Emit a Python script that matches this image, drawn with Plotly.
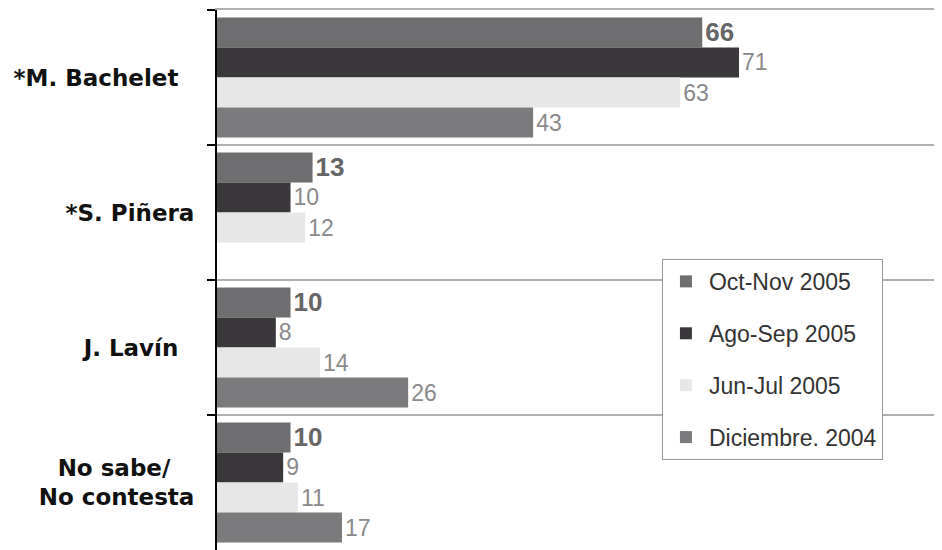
import plotly.graph_objects as go

# candidatos (categorias) y periodos (series)
candidates = ["*M. Bachelet&nbsp;&nbsp;", "*S. Piñera",
              "J. Lavín&nbsp;&nbsp;", "No sabe/&nbsp;&nbsp;&nbsp;<br>No contesta"]
periods = ["Oct-Nov 2005", "Ago-Sep 2005", "Jun-Jul 2005", "Diciembre. 2004"]

oct_nov_2005 = [66, 13, 10, 10]
ago_sep_2005 = [71, 10, 8, 9]
jun_jul_2005 = [63, 12, 14, 11]
dic_2004 = [43, None, 26, 17]

series = [oct_nov_2005, ago_sep_2005, jun_jul_2005, dic_2004]
colors = ["#6e6e70", "#3a383b", "#e6e7e6", "#7b7b7d"]
text_fonts = [
    dict(family="Liberation Sans, Arial", size=26, color="#666666", weight="bold"),
    dict(family="Liberation Sans, Arial", size=23, color="#8a8a8a"),
    dict(family="Liberation Sans, Arial", size=23, color="#8a8a8a"),
    dict(family="Liberation Sans, Arial", size=23, color="#8a8a8a"),
]

fig = go.Figure()
for name, vals, col, tf in zip(periods, series, colors, text_fonts):
    fig.add_trace(go.Bar(
        y=candidates, x=vals, name=name, orientation="h",
        marker=dict(color=col, line=dict(width=0)),
        text=[("" if v is None else str(v)) for v in vals],
        textposition="outside", textfont=tf, constraintext="none",
        cliponaxis=False, legendgroup=name,
    ))

# the page body adds an 8px offset, so margins are reduced by it
fig.update_layout(
    width=942, height=542,
    margin=dict(l=209, r=0, t=2, b=0, autoexpand=False),
    paper_bgcolor="white", plot_bgcolor="white",
    barmode="group", bargap=0.11, bargroupgap=0,
    showlegend=True,
    legend=dict(
        x=0.607, y=0.539, xanchor="left", yanchor="top",
        bgcolor="white", bordercolor="#999999", borderwidth=1,
        font=dict(family="Liberation Sans, Arial", size=23, color="#333333"),
        traceorder="grouped", tracegroupgap=19,
        entrywidth=212, itemwidth=36,
    ),
    xaxis=dict(range=[0, 99.7], side="top", showgrid=False, zeroline=False,
               showticklabels=False, ticks="", showline=True,
               linecolor="#b0b0b0", linewidth=1.5, automargin=False),
    yaxis=dict(
        autorange="reversed", type="category", automargin=False,
        tickson="boundaries", ticks="outside", ticklen=8, tickwidth=2, tickcolor="black",
        showline=True, linecolor="black", linewidth=2,
        showgrid=True, gridcolor="#b0b0b0", gridwidth=1.5,
        tickfont=dict(family="DejaVu Sans", size=23, color="#111111", weight="bold"),
        ticklabelstandoff=16,
    ),
)

fig.write_html("out.html")
